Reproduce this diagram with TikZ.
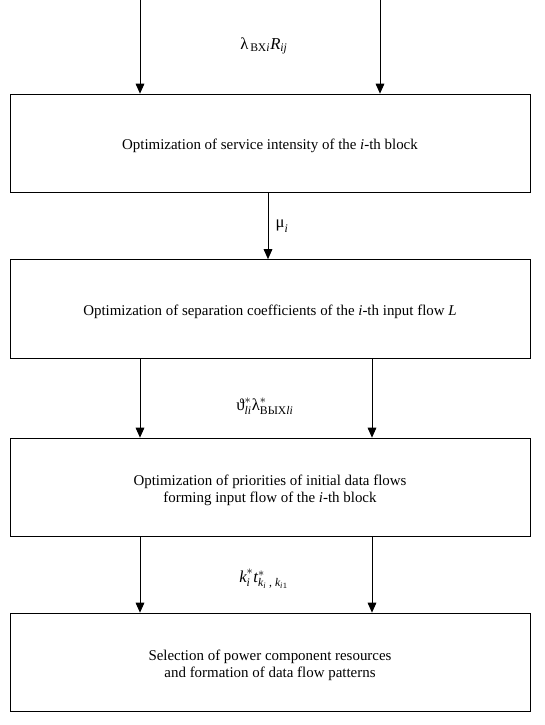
\documentclass[tikz,border=0pt]{standalone}
\usepackage{amsmath}
\usepackage{fontspec}
\setmainfont{Liberation Serif}
\usetikzlibrary{arrows.meta}

\begin{document}
\begin{tikzpicture}[x=0.75pt,y=-0.75pt,>={Triangle[length=7.5pt,width=6.5pt]},line width=0.75pt,
	block/.style={draw,minimum width=390pt,minimum height=74pt,inner sep=0pt,
		label={[align=center,font=\fontsize{11.2}{13}\selectfont,yshift=-2pt]center:#1}},
	flowlabel/.style={font=\fontsize{12.5}{15}\selectfont}]
			\useasboundingbox (0,0) rectangle (545,725);
			\node[block={Optimization of service intensity of the \textit{i}-th block}] (b1) at (270,143.5) {};
			\node[block={Optimization of separation coefficients of the \textit{i}-th input flow \textit{L}}] (b2) at (270,309) {};
			\node[block={Optimization of priorities of initial data flows\\forming input flow of the \textit{i}-th block}] (b3) at (270,487.5) {};
			\node[block={Selection of power component resources\\and formation of data flow patterns}] (b4) at (270,662.5) {};

			\coordinate (inL) at (140,0);
			\coordinate (inR) at (380,0);
			\coordinate (outR) at (372,0);

			\node[flowlabel] (l1) at (264,46) {$\text{λ}_{\,\text{ВХ}\textit{i}}\textit{R}_{\textit{ij}}$};
			\node[flowlabel] (l3) at (265,406) {$\text{ϑ}^{*}_{\textit{li}}\text{λ}^{*}_{\text{ВЫХ}\textit{li}}$};
			\node[flowlabel] (l4) at (264,579) {$\textit{k}^{*}_{\textit{i}}\textit{t}^{*}_{\textit{k}_{\textit{i}}\text{ , }\textit{k}_{\textit{i}1}}$};

			\path[->]
				(inL) edge (inL |- b1.north)
				(inR) edge (inR |- b1.north)
				(b1.south -| 268,0) edge node[right,flowlabel,xshift=2pt] {$\text{μ}_{\textit{i}}$} (b2.north -| 268,0)
				(b2.south -| inL) edge (b3.north -| inL)
				(b2.south -| outR) edge (b3.north -| outR)
				(b3.south -| inL) edge (b4.north -| inL)
				(b3.south -| outR) edge (b4.north -| outR)
			;
		\end{tikzpicture}
\end{document}
